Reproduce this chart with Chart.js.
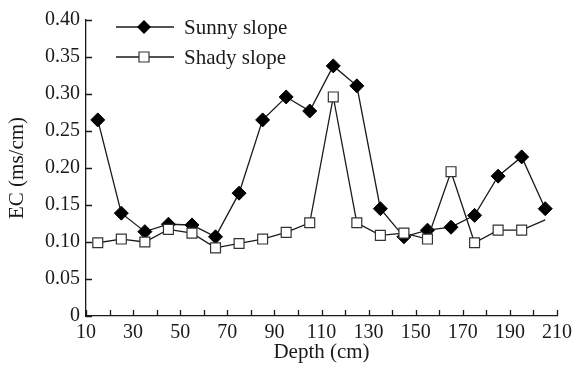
<!DOCTYPE html>
<html>
<head>
<meta charset="utf-8">
<script src="https://cdn.jsdelivr.net/npm/chart.js@4.4.1/dist/chart.umd.min.js"></script>
<style>
  html, body { margin: 0; padding: 0; background: #fff; }
</style>
</head>
<body>
<canvas id="ecChart" width="577" height="365"></canvas>
<script>
// Data
const depths = [15, 25, 35, 45, 55, 65, 75, 85, 95, 105, 115, 125, 135, 145, 155, 165, 175, 185, 195, 205];
const sunnySlope = [0.265, 0.139, 0.114, 0.124, 0.123, 0.107, 0.166, 0.265, 0.296, 0.277, 0.338, 0.311, 0.145, 0.107, 0.116, 0.120, 0.136, 0.189, 0.215, 0.145];
const shadySlope = [0.099, 0.104, 0.100, 0.117, 0.112, 0.092, 0.098, 0.104, 0.113, 0.126, 0.296, 0.126, 0.109, 0.112, 0.104, 0.195, 0.099, 0.116, 0.116, 0.130];
const xTickLabels = ['10', '30', '50', '70', '90', '110', '130', '150', '170', '190', '210'];
const yTickLabels = ['0', '0.05', '0.10', '0.15', '0.20', '0.25', '0.30', '0.35', '0.40'];
const seriesNames = ['Sunny slope', 'Shady slope'];

const INK = '#1a1a1a';
const SERIF = '"Liberation Serif", "DejaVu Serif", serif';

const toPoints = (ys) => depths.map((d, i) => ({ x: d, y: ys[i] }));

// shady slope ends without a marker at the last depth
const shadyRadius = depths.map((_, i) => i === depths.length - 1 ? 0 : 7);

// Ticks point inward, like the original figure
const innerTicks = {
  id: 'innerTicks',
  afterDraw(chart) {
    const { ctx, scales: { x, y } } = chart;
    ctx.save();
    ctx.strokeStyle = INK;
    ctx.lineWidth = 1.3;
    ctx.beginPath();
    x.ticks.forEach(t => {
      const px = Math.round(x.getPixelForValue(t.value)) + 0.5;
      ctx.moveTo(px, y.bottom);
      ctx.lineTo(px, y.bottom - 6);
    });
    y.ticks.forEach(t => {
      const py = Math.round(y.getPixelForValue(t.value)) + 0.5;
      ctx.moveTo(x.left, py);
      ctx.lineTo(x.left + 6, py);
    });
    ctx.stroke();
    ctx.restore();
  }
};

// Legend drawn inside the plot, top-left
const insideLegend = {
  id: 'insideLegend',
  afterDraw(chart) {
    const { ctx } = chart;
    const rows = [
      { y: 27, marker: 'diamond' },
      { y: 57, marker: 'square' }
    ];
    ctx.save();
    rows.forEach((r, i) => {
      ctx.strokeStyle = INK;
      ctx.lineWidth = 1.3;
      ctx.beginPath();
      ctx.moveTo(116, r.y);
      ctx.lineTo(174, r.y);
      ctx.stroke();
      const cx = 144;
      ctx.beginPath();
      if (r.marker === 'diamond') {
        ctx.moveTo(cx, r.y - 7);
        ctx.lineTo(cx + 7, r.y);
        ctx.lineTo(cx, r.y + 7);
        ctx.lineTo(cx - 7, r.y);
        ctx.closePath();
        ctx.fillStyle = '#000';
        ctx.fill();
      } else {
        ctx.rect(cx - 5, r.y - 5, 10, 10);
        ctx.fillStyle = '#fff';
        ctx.fill();
        ctx.lineWidth = 1.2;
        ctx.strokeStyle = '#333';
        ctx.stroke();
      }
      ctx.fillStyle = INK;
      ctx.font = '21px ' + SERIF;
      ctx.textBaseline = 'middle';
      ctx.fillText(seriesNames[i], 184, r.y + 1);
    });
    ctx.restore();
  }
};

const ctx = document.getElementById('ecChart').getContext('2d');
new Chart(ctx, {
  type: 'line',
  data: {
    datasets: [
      {
        label: seriesNames[0],
        data: toPoints(sunnySlope),
        borderColor: INK,
        borderWidth: 1.3,
        pointStyle: 'rectRot',
        pointRadius: 7,
        pointBackgroundColor: '#000',
        pointBorderColor: '#000',
        pointBorderWidth: 1,
        tension: 0,
        order: 2
      },
      {
        label: seriesNames[1],
        data: toPoints(shadySlope),
        borderColor: INK,
        borderWidth: 1.3,
        pointStyle: 'rect',
        pointRadius: shadyRadius,
        pointBackgroundColor: '#fff',
        pointBorderColor: '#333',
        pointBorderWidth: 1.2,
        tension: 0,
        order: 1
      }
    ]
  },
  options: {
    responsive: false,
    animation: false,
    events: [],
    layout: { padding: { top: 20, right: 19, left: 0, bottom: 0 } },
    plugins: {
      legend: { display: false },
      tooltip: { enabled: false }
    },
    scales: {
      x: {
        type: 'linear',
        min: 10,
        max: 210,
        afterFit: (scale) => { scale.height = 49; },
        border: { display: true, color: INK, width: 1.3 },
        grid: { display: false, drawTicks: false },
        ticks: {
          stepSize: 10,
          autoSkip: false,
          maxRotation: 0,
          padding: 5,
          color: INK,
          font: { family: SERIF, size: 20 },
          callback: (v) => ((v - 10) % 20 === 0 ? xTickLabels[(v - 10) / 20] : '')
        },
        title: {
          display: true,
          text: 'Depth (cm)',
          color: INK,
          font: { family: SERIF, size: 21 },
          padding: { top: 0, bottom: 0 }
        }
      },
      y: {
        min: 0,
        max: 0.4,
        afterFit: (scale) => { scale.width = 86; },
        border: { display: true, color: INK, width: 1.3 },
        grid: { display: false, drawTicks: false },
        ticks: {
          stepSize: 0.05,
          autoSkip: false,
          padding: 6,
          color: INK,
          font: { family: SERIF, size: 20 },
          callback: (v, i) => yTickLabels[i]
        },
        title: {
          display: true,
          text: 'EC (ms/cm)',
          color: INK,
          font: { family: SERIF, size: 21 },
          padding: { top: 5, bottom: 0 }
        }
      }
    }
  },
  plugins: [innerTicks, insideLegend]
});
</script>
</body>
</html>
